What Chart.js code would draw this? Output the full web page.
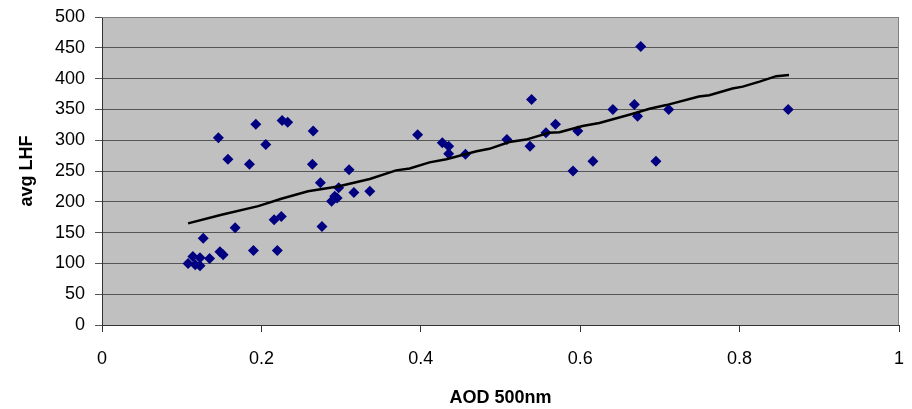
<!DOCTYPE html>
<html>
<head>
<meta charset="utf-8">
<script src="https://cdn.jsdelivr.net/npm/chart.js@4.4.0/dist/chart.umd.min.js"></script>
<style>
  html, body { margin: 0; padding: 0; background: #ffffff; }
  canvas { display: block; }
</style>
</head>
<body>
<canvas id="chart" width="912" height="409"></canvas>
<script>
// scatter data: AOD at 500nm vs average LHF
const aod = [0.108, 0.114, 0.117, 0.123, 0.123, 0.127, 0.135, 0.146, 0.148, 0.152,
  0.158, 0.167, 0.185, 0.190, 0.193, 0.2055, 0.216, 0.220, 0.225, 0.226,
  0.233, 0.264, 0.265, 0.274, 0.276, 0.288, 0.292, 0.295, 0.297, 0.310,
  0.316, 0.336, 0.396, 0.427, 0.435, 0.435, 0.456, 0.508, 0.537, 0.539,
  0.557, 0.569, 0.591, 0.597, 0.616, 0.641, 0.668, 0.672, 0.676, 0.695,
  0.711, 0.861];
const lhf = [100, 111, 98, 109, 96, 141, 108, 304, 119, 114,
  269, 158, 261, 121, 326, 293, 171, 121, 176, 332,
  329, 261, 315, 231, 160, 201, 209, 206, 223, 252,
  215, 217, 309, 296, 290, 278, 277, 301, 290, 366,
  312, 326, 250, 315, 266, 350, 358, 339, 452, 266,
  350, 350];

// trend line (moving average look)
const trendX = [0.108, 0.15, 0.196, 0.225, 0.2585, 0.296, 0.336, 0.369, 0.386, 0.411,
  0.432, 0.47, 0.486, 0.511, 0.532, 0.561, 0.574, 0.603, 0.624, 0.666,
  0.687, 0.708, 0.749, 0.762, 0.791, 0.804, 0.825, 0.846, 0.862];
const trendY = [165, 179, 193, 205, 217, 225, 237, 251, 254, 264,
  269, 282, 286, 297, 301, 312, 313, 323, 328, 343,
  351, 357, 371, 373, 384, 387, 395, 404, 406];

const xTicks = [0, 0.2, 0.4, 0.6, 0.8, 1];

const FONT = 'Arial, "Liberation Sans", sans-serif';

// gray plot background + frame
const plotArea = {
  id: 'plotArea',
  beforeDraw(chart) {
    const { ctx, chartArea: a } = chart;
    ctx.save();
    ctx.fillStyle = '#c0c0c0';
    ctx.fillRect(a.left, a.top, a.right - a.left, a.bottom - a.top);
    ctx.restore();
  },
  afterDatasetsDraw(chart) {
    const { ctx, chartArea: a } = chart;
    ctx.save();
    ctx.strokeStyle = '#808080';
    ctx.lineWidth = 1;
    ctx.beginPath();
    ctx.moveTo(a.left, a.top + 0.5);
    ctx.lineTo(a.right - 0.5, a.top + 0.5);
    ctx.lineTo(a.right - 0.5, a.bottom);
    ctx.stroke();
    ctx.restore();
  }
};

new Chart(document.getElementById('chart'), {
  type: 'scatter',
  data: {
    datasets: [
      {
        label: 'avg LHF',
        data: aod.map((x, i) => ({ x: x, y: lhf[i] })),
        pointStyle: 'rectRot',
        pointRadius: 5.5,
        pointHoverRadius: 5.5,
        backgroundColor: '#000080',
        borderColor: '#000080',
        borderWidth: 0,
        order: 1
      },
      {
        label: 'trend',
        type: 'line',
        data: trendX.map((x, i) => ({ x: x, y: trendY[i] })),
        borderColor: '#000000',
        borderWidth: 2.5,
        pointRadius: 0,
        fill: false,
        tension: 0,
        order: 0
      }
    ]
  },
  options: {
    responsive: false,
    animation: false,
    layout: { padding: { top: 17, right: 13, left: 0, bottom: 0 } },
    plugins: {
      legend: { display: false },
      tooltip: { enabled: false }
    },
    scales: {
      x: {
        type: 'linear',
        min: 0,
        max: 1,
        afterFit: s => { s.height = 84; s.paddingLeft = 0; s.paddingRight = 0; },
        afterBuildTicks: s => { s.ticks = xTicks.map(v => ({ value: v })); },
        ticks: {
          color: '#000',
          font: { family: FONT, size: 18 },
          padding: 16,
          maxRotation: 0,
          callback: v => String(Math.round(v * 10) / 10)
        },
        grid: { drawOnChartArea: false, tickLength: 7, color: '#333333' },
        border: { color: '#333333' },
        title: {
          display: true,
          text: 'AOD 500nm',
          color: '#000',
          font: { family: FONT, size: 18, weight: 'bold' },
          padding: { top: 0, bottom: 0 }
        }
      },
      y: {
        min: 0,
        max: 500,
        afterFit: s => { s.width = 102; s.paddingTop = 0; s.paddingBottom = 0; },
        ticks: {
          stepSize: 50,
          color: '#000',
          font: { family: FONT, size: 18 },
          padding: 10
        },
        grid: { color: '#555555', tickLength: 7 },
        border: { color: '#333333' },
        title: {
          display: true,
          text: 'avg LHF',
          color: '#000',
          font: { family: FONT, size: 18, weight: 'bold' },
          padding: { top: 16, bottom: 0 }
        }
      }
    }
  },
  plugins: [plotArea]
});
</script>
</body>
</html>
